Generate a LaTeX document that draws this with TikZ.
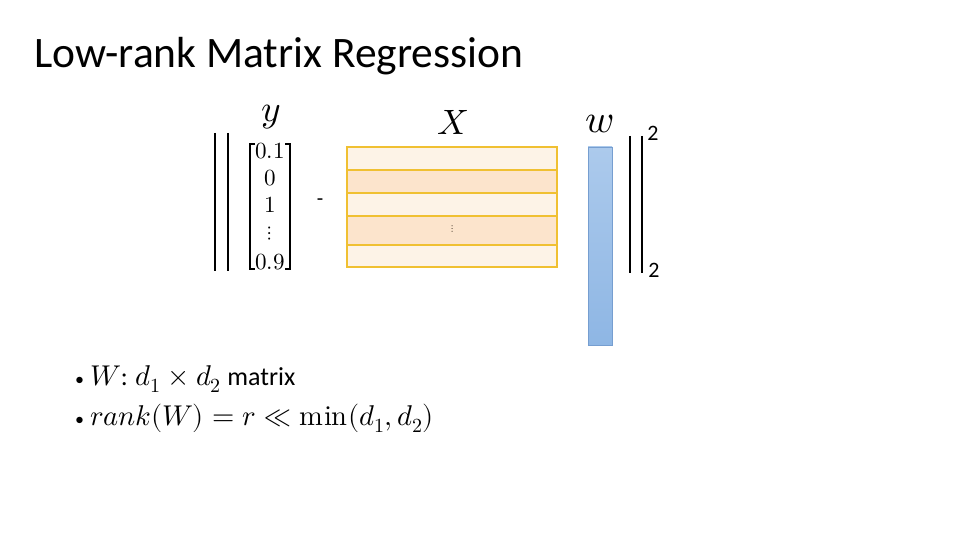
\documentclass[tikz,border=0pt]{standalone}
\usepackage{fontspec}
\usepackage{unicode-math}
\setmainfont{Carlito}
\setmathfont{Latin Modern Math}[Scale=1.1]
\usetikzlibrary{calc}
\definecolor{rowA}{RGB}{253,243,231}
\definecolor{rowB}{RGB}{252,228,204}
\definecolor{rowline}{RGB}{240,192,50}
\definecolor{wtop}{RGB}{172,202,236}
\definecolor{wbot}{RGB}{142,182,228}
\definecolor{wline}{RGB}{118,158,208}
\tikzset{
  normbar/.style={line width=2.2pt,black},
  xrow/.style={draw=rowline,line width=1.6pt},
  entry/.style={font=\fontsize{21}{21}\selectfont,inner sep=0pt},
  mathlbl/.style={font=\fontsize{33}{33}\selectfont,inner sep=0pt},
  bullet/.style={font=\fontsize{26}{30}\selectfont,anchor=west,inner sep=0pt}
}
\begin{document}
\begin{tikzpicture}[x=1pt,y=-1pt]
\useasboundingbox (0,0) rectangle (960,540);
% title
\node[anchor=base west,inner sep=0pt,font=\fontsize{43.5}{44}\selectfont] (title) at (34,68) {Low-rank Matrix Regression};
% left norm bars
\draw[normbar] (215,133) -- (215,271);
\draw[normbar] (228,133) -- (228,271);
% y vector bracket
\draw[line width=1.2pt] (255,144) -- (250,144) -- (250,269) -- (255,269);
\draw[line width=1.2pt] (285,144) -- (290,144) -- (290,269) -- (285,269);
\node[mathlbl,font=\fontsize{34}{34}\selectfont] (ylbl) at (271,117) {$y$};
\node[entry] (e1) at (270,151) {$0.1$};
\node[entry] (e2) at (270,178) {$0$};
\node[entry] (e3) at (270,205) {$1$};
\node[entry,font=\fontsize{18}{18}\selectfont] (e4) at (270,234) {$\vdots$};
\node[entry] (e5) at (270,262) {$0.9$};
% minus
\node[entry] (minus) at (320,202) {-};
% X matrix
\node[mathlbl,font=\fontsize{32}{32}\selectfont] (xlbl) at (453,122) {$X$};
\filldraw[xrow,fill=rowA] (347,147) rectangle (557,170);
\filldraw[xrow,fill=rowB] (347,170) rectangle (557,193);
\filldraw[xrow,fill=rowA] (347,193) rectangle (557,216);
\filldraw[xrow,fill=rowB] (347,216) rectangle (557,245);
\filldraw[xrow,fill=rowA] (347,245) rectangle (557,267);
\node[inner sep=0pt,text=black!80!brown,font=\fontsize{9}{9}\selectfont] (xdots) at (453,229) {$\vdots$};
% w vector
\node[mathlbl,font=\fontsize{36}{36}\selectfont] (wlbl) at (600,124) {$w$};
\shade[top color=wtop,bottom color=wbot] (588,147) rectangle (612,345);
\draw[wline,line width=0.8pt] (588,147) rectangle (612,345);
% right norm bars
\draw[normbar] (630,136) -- (630,273);
\draw[normbar] (642,136) -- (642,273);
\node[entry,font=\fontsize{22}{22}\selectfont] (sup2) at (653,133) {2};
\node[entry,font=\fontsize{22}{22}\selectfont] (sub2) at (654,270) {2};
% bullets
\node[bullet] (b1) at (75,379) {{\fontsize{18}{18}\selectfont•}\hspace{6pt}$W$: $d_1 \times d_2$ matrix};
\node[bullet] (b2) at (75,418) {{\fontsize{18}{18}\selectfont•}\hspace{6pt}$rank(W) = r \ll \symup{min}(d_1, d_2)$};
\end{tikzpicture}
\end{document}
